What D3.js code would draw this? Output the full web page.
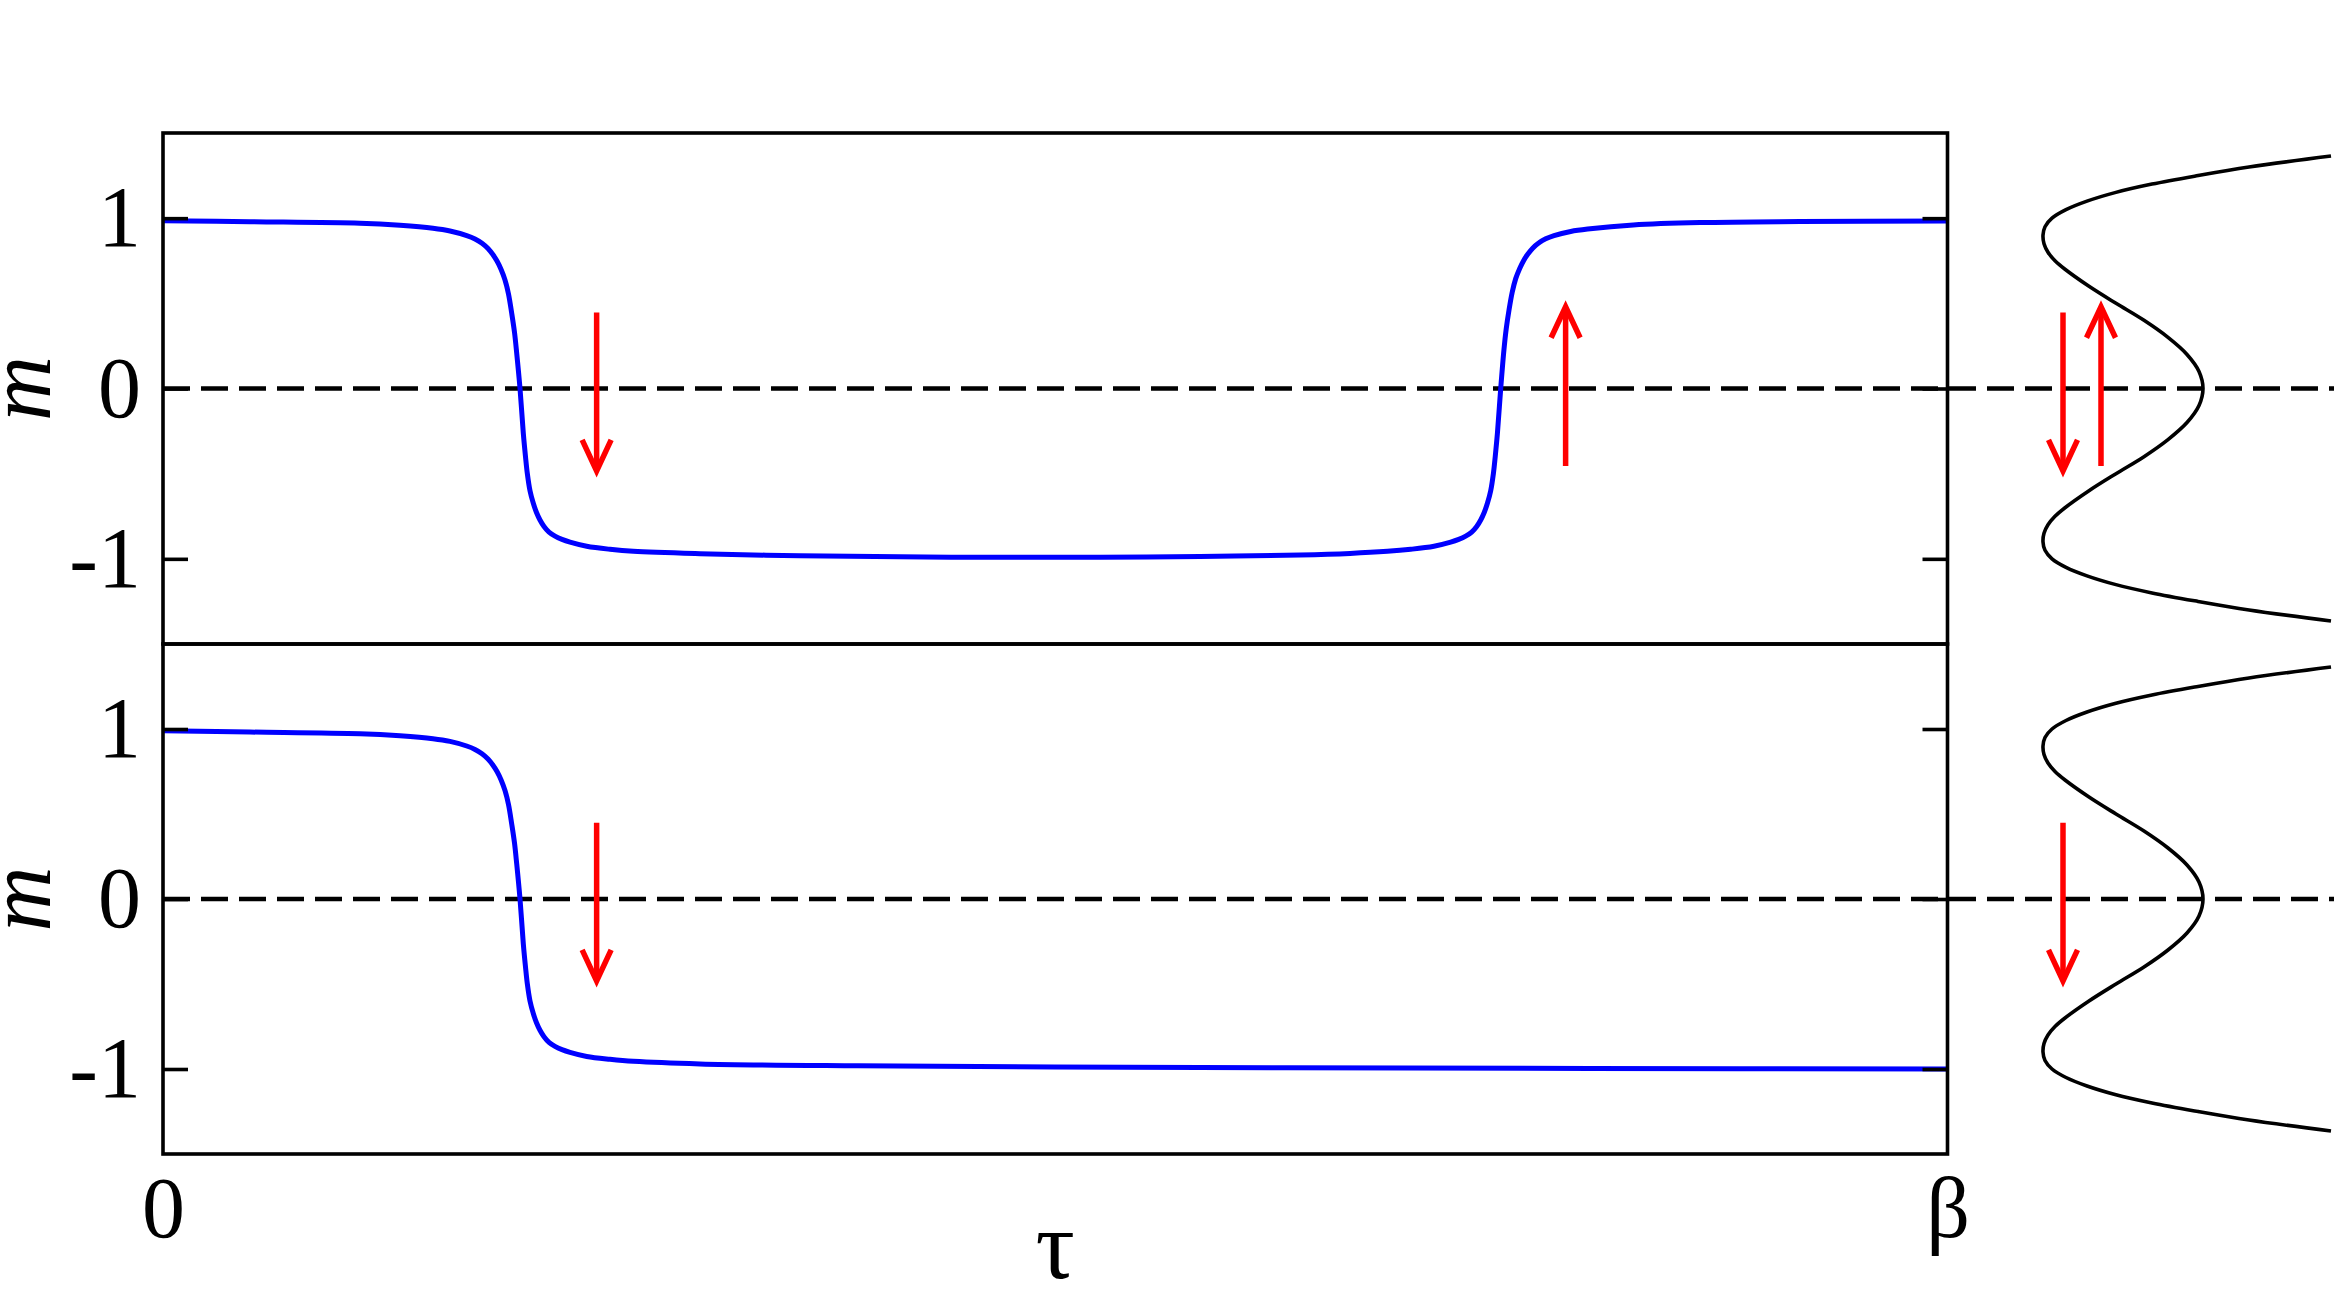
<!DOCTYPE html>
<html>
<head>
<meta charset="utf-8">
<script src="https://cdn.jsdelivr.net/npm/d3@7"></script>
<style>
  html, body { margin: 0; padding: 0; background: #fff; }
  svg { display: block; }
</style>
</head>
<body>
<div id="chart"></div>
<script>
// ---------------- data ----------------
// imaginary time tau in units of beta (0 .. beta)
const tauTop = [0, 0.04875, 0.11039, 0.13281, 0.15130, 0.16083, 0.17019, 0.17484, 0.17876, 0.18212, 0.18493, 0.18717, 0.18941, 0.19165, 0.19361, 0.19540, 0.19697, 0.19821, 0.20006, 0.20191, 0.20314, 0.20415, 0.20566, 0.20751, 0.20930, 0.21126, 0.21351, 0.21631, 0.21967, 0.22359, 0.22808, 0.23743, 0.25049, 0.26355, 0.30092, 0.35696, 0.41300, 0.46904, 0.52508, 0.58111, 0.63715, 0.66517, 0.68613, 0.69919, 0.71224, 0.72160, 0.72609, 0.73001, 0.73337, 0.73617, 0.73842, 0.74038, 0.74217, 0.74402, 0.74554, 0.74655, 0.74778, 0.74963, 0.75147, 0.75271, 0.75427, 0.75607, 0.75803, 0.76027, 0.76251, 0.76475, 0.76755, 0.77091, 0.77484, 0.77949, 0.78885, 0.79837, 0.82393, 0.86131, 0.91734, 1.0];
const mTop   = [0.985, 0.979, 0.970, 0.958, 0.941, 0.925, 0.898, 0.878, 0.853, 0.822, 0.785, 0.748, 0.700, 0.637, 0.555, 0.442, 0.330, 0.207, 0, -0.263, -0.400, -0.498, -0.600, -0.674, -0.728, -0.772, -0.810, -0.843, -0.867, -0.886, -0.902, -0.926, -0.944, -0.956, -0.970, -0.982, -0.988, -0.991, -0.990, -0.986, -0.977, -0.968, -0.956, -0.944, -0.926, -0.902, -0.886, -0.867, -0.843, -0.810, -0.772, -0.728, -0.674, -0.600, -0.498, -0.400, -0.263, 0, 0.230, 0.350, 0.460, 0.565, 0.645, 0.705, 0.752, 0.788, 0.824, 0.854, 0.879, 0.898, 0.922, 0.936, 0.960, 0.974, 0.980, 0.983];

const tauBottom = [0, 0.04875, 0.11039, 0.13281, 0.15130, 0.16083, 0.17019, 0.17484, 0.17876, 0.18212, 0.18493, 0.18717, 0.18941, 0.19165, 0.19361, 0.19540, 0.19697, 0.19821, 0.20006, 0.20191, 0.20314, 0.20415, 0.20566, 0.20751, 0.20930, 0.21126, 0.21351, 0.21631, 0.21967, 0.22359, 0.22808, 0.23743, 0.25049, 0.26355, 0.30092, 0.38929, 0.49986, 0.62987, 0.79966, 1.0];
const mBottom   = [0.989, 0.982, 0.972, 0.960, 0.943, 0.927, 0.900, 0.880, 0.855, 0.824, 0.787, 0.750, 0.702, 0.638, 0.556, 0.442, 0.330, 0.207, 0, -0.263, -0.400, -0.498, -0.600, -0.674, -0.728, -0.772, -0.810, -0.843, -0.867, -0.886, -0.902, -0.926, -0.943, -0.955, -0.970, -0.981, -0.988, -0.993, -0.997, -1.0];

// double-well free energy sketch drawn sideways (m vertical, F horizontal)
const mWell = [-1.365, -1.3, -1.25, -1.2, -1.15, -1.1, -1.05, -1.0, -0.95, -0.9, -0.85, -0.8, -0.75, -0.7, -0.6, -0.5, -0.4, -0.3, -0.2, -0.1, 0, 0.1, 0.2, 0.3, 0.4, 0.5, 0.6, 0.7, 0.75, 0.8, 0.85, 0.9, 0.95, 1.0, 1.05, 1.1, 1.15, 1.2, 1.25, 1.3, 1.365];
const fWell = [1.28, 0.46, -0.05, -0.51, -0.88, -1.16, -1.37, -1.51, -1.58, -1.60, -1.59, -1.55, -1.48, -1.38, -1.14, -0.87, -0.59, -0.35, -0.16, -0.04, 0, -0.04, -0.16, -0.35, -0.59, -0.87, -1.14, -1.38, -1.48, -1.55, -1.59, -1.60, -1.58, -1.51, -1.37, -1.16, -0.88, -0.51, -0.05, 0.46, 1.28];

// red tunnelling arrows
const topArrowTau  = [0.243, 0.786];
const topArrowFrom = [0.446, -0.455];
const topArrowTo   = [-0.484, 0.48];
const topWellArrowF = [-1.40, -1.02];

const bottomArrowTau  = [0.243];
const bottomArrowFrom = [0.448];
const bottomArrowTo   = [-0.482];
const bottomWellArrowF = [-1.40];

// ticks
const yTicks = [-1, 0, 1];
const yTickLabels = ["-1", "0", "1"];
const xTicks = [0, 1];
const xTickLabels = ["0", "β"];

// ---------------- layout ----------------
const W = 2338, H = 1292;
const left = 163, right = 1947.5;
const topY0 = 133, topY1 = 644, botY0 = 644, botY1 = 1154;
const serif = "'Liberation Serif', 'Times New Roman', serif";

const svg = d3.select("#chart").append("svg")
  .attr("width", W).attr("height", H)
  .attr("viewBox", `0 0 ${W} ${H}`);

svg.append("rect").attr("width", W).attr("height", H).attr("fill", "#fff");

const x = d3.scaleLinear().domain([0, 1]).range([left, right]);
const yTop = d3.scaleLinear().domain([-1.5, 1.5]).range([topY1, topY0]);
const yBot = d3.scaleLinear().domain([-1.5, 1.5]).range([botY1, botY0]);
const xWell = d3.scaleLinear().domain([-1.60, 1.28]).range([2043, 2331]);

function drawPanel(y, tau, m, arrTau, arrFrom, arrTo, wellArrF) {
  const g = svg.append("g");
  // dashed zero line across plot and side sketch
  g.append("line")
    .attr("x1", x(0)).attr("x2", 2334)
    .attr("y1", y(0)).attr("y2", y(0))
    .attr("stroke", "#000").attr("stroke-width", 4.5)
    .attr("stroke-dasharray", "27,11");

  // blue magnetization curve
  const line = d3.line()
    .x((d, i) => x(tau[i]))
    .y((d, i) => y(m[i]))
    .curve(d3.curveCatmullRom.alpha(0.5));
  g.append("path").datum(tau)
    .attr("d", line)
    .attr("fill", "none").attr("stroke", "#0000ff")
    .attr("stroke-width", 5).attr("stroke-linejoin", "round");

  // side double well
  const wline = d3.line()
    .x((d, i) => xWell(fWell[i]))
    .y((d, i) => y(mWell[i]))
    .curve(d3.curveCatmullRom.alpha(0.5));
  g.append("path").datum(mWell)
    .attr("d", wline)
    .attr("fill", "none").attr("stroke", "#000")
    .attr("stroke-width", 3.6);

  // arrows
  function arrow(px, yFrom, yTo) {
    const dir = yTo > yFrom ? 1 : -1;
    const hl = 31, hw = 14.5;
    g.append("line")
      .attr("x1", px).attr("x2", px)
      .attr("y1", yFrom).attr("y2", yTo - dir * 3)
      .attr("stroke", "#ff0000").attr("stroke-width", 5.5);
    g.append("path")
      .attr("d", `M${px - hw},${yTo - dir * hl} L${px},${yTo} L${px + hw},${yTo - dir * hl}`)
      .attr("fill", "none").attr("stroke", "#ff0000")
      .attr("stroke-width", 5.5).attr("stroke-linejoin", "miter")
      .attr("stroke-miterlimit", 10);
  }
  arrTau.forEach((t, i) => arrow(x(t), y(arrFrom[i]), y(arrTo[i])));
  wellArrF.forEach((f, i) => arrow(xWell(f), y(arrFrom[i]), y(arrTo[i])));

  // frame
  g.append("rect")
    .attr("x", x(0)).attr("y", y(1.5))
    .attr("width", x(1) - x(0)).attr("height", y(-1.5) - y(1.5))
    .attr("fill", "none").attr("stroke", "#000").attr("stroke-width", 3.6);

  // left axis (ticks inward, labels)
  const la = g.append("g").attr("transform", `translate(${x(0)},0)`)
    .call(d3.axisLeft(y).tickValues(yTicks).tickSize(-25).tickPadding(22)
      .tickFormat((d, i) => yTickLabels[i]));
  la.select(".domain").remove();
  la.selectAll("line").attr("stroke", "#000").attr("stroke-width", 3.6);
  la.selectAll("text").attr("font-family", serif).attr("font-size", 86).attr("fill", "#000");

  // right axis (ticks only)
  const ra = g.append("g").attr("transform", `translate(${x(1)},0)`)
    .call(d3.axisRight(y).tickValues(yTicks).tickSize(-25).tickFormat(() => ""));
  ra.select(".domain").remove();
  ra.selectAll("line").attr("stroke", "#000").attr("stroke-width", 3.6);

  // y label m
  g.append("text")
    .attr("transform", `translate(50,${y(0)}) rotate(-90)`)
    .attr("text-anchor", "middle")
    .attr("font-family", serif).attr("font-style", "italic")
    .attr("font-size", 90).text("m");
}

drawPanel(yTop, tauTop, mTop, topArrowTau, topArrowFrom, topArrowTo, topWellArrowF);
drawPanel(yBot, tauBottom, mBottom, bottomArrowTau, bottomArrowFrom, bottomArrowTo, bottomWellArrowF);

// x axis labels
const xa = svg.append("g").attr("transform", `translate(0,${botY1})`)
  .call(d3.axisBottom(x).tickValues(xTicks).tickSize(0).tickPadding(22)
    .tickFormat((d, i) => xTickLabels[i]));
xa.select(".domain").remove();
xa.selectAll("text").attr("font-family", serif).attr("font-size", 86).attr("fill", "#000");

svg.append("text")
  .attr("x", (x(0) + x(1)) / 2).attr("y", 1278)
  .attr("text-anchor", "middle")
  .attr("font-family", serif).attr("font-size", 98)
  .text("τ");
</script>
</body>
</html>
